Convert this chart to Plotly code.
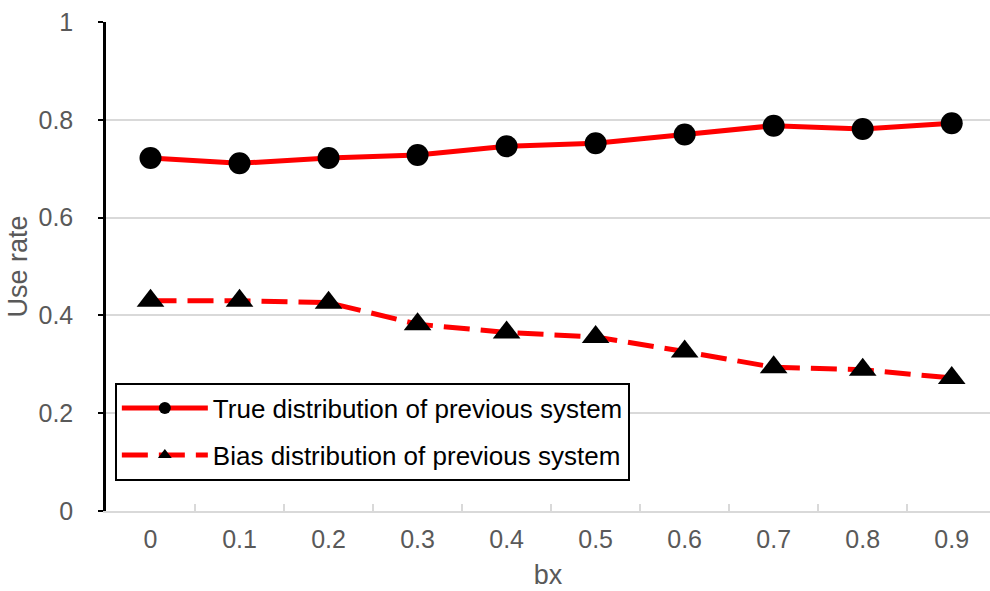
import plotly.graph_objects as go

categories = ["0", "0.1", "0.2", "0.3", "0.4", "0.5", "0.6", "0.7", "0.8", "0.9"]
true_dist = [0.722, 0.711, 0.722, 0.728, 0.746, 0.752, 0.770, 0.788, 0.781, 0.793]
bias_dist = [0.430, 0.430, 0.426, 0.382, 0.365, 0.356, 0.326, 0.294, 0.289, 0.272]
y_ticks = [0, 0.2, 0.4, 0.6, 0.8, 1]
y_ticktext = ["0", "0.2", "0.4", "0.6", "0.8", "1"]

FONT = "Liberation Sans, Arial, sans-serif"
GRAY = "#595959"

fig = go.Figure()
fig.add_trace(go.Scatter(
    x=categories, y=true_dist, mode="lines+markers",
    name="True distribution of previous system", legendgroup="a",
    line=dict(color="#ff0000", width=5),
    marker=dict(symbol="circle", size=22, color="black"),
))
fig.add_trace(go.Scatter(
    x=categories, y=bias_dist, mode="lines+markers",
    name="Bias distribution of previous system", legendgroup="b",
    line=dict(color="#ff0000", width=5, dash="26px,11px"),
    marker=dict(symbol="triangle-up", size=24, color="black"),
))

fig.update_layout(
    width=990, height=591,
    margin=dict(l=106, r=0, t=22, b=80),
    paper_bgcolor="white", plot_bgcolor="white",
    font=dict(family=FONT, size=25, color=GRAY),
    showlegend=True,
    legend=dict(
        x=0.01, y=0.062, xanchor="left", yanchor="bottom",
        bordercolor="black", borderwidth=2, bgcolor="white",
        font=dict(family=FONT, size=26, color="black"),
        tracegroupgap=10, itemsizing="constant", itemwidth=86,
    ),
)
fig.update_xaxes(
    type="category", range=[-0.5, 9.43],
    showline=True, linecolor="#d9d9d9", linewidth=1.5,
    showgrid=False, ticks="inside", tickson="boundaries", ticklen=7,
    tickcolor="#d9d9d9", tickwidth=1.5,
    tickfont=dict(size=25, color=GRAY), ticklabelstandoff=5,
    title=dict(text="bx", font=dict(size=27, color=GRAY), standoff=13),
)
fig.update_yaxes(
    range=[0, 1], tickvals=y_ticks, ticktext=y_ticktext,
    showline=True, linecolor="black", linewidth=2.5,
    showgrid=True, gridcolor="#d9d9d9", gridwidth=1.5,
    ticks="outside", ticklen=5, tickcolor="black", tickwidth=2,
    tickfont=dict(size=25, color=GRAY), ticklabelstandoff=20,
    zeroline=False,
    title=dict(text="Use rate", font=dict(size=27, color=GRAY), standoff=4),
)

fig.write_html("out.html")
